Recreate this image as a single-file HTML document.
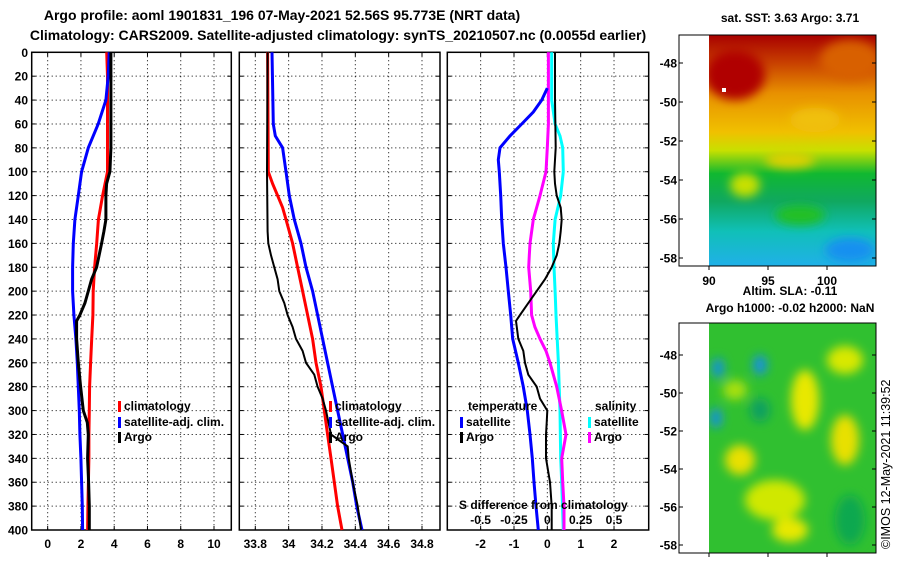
<!DOCTYPE html>
<html><head><meta charset="utf-8"><style>
body{margin:0;background:#fff;}
svg{display:block;font-family:"Liberation Sans",sans-serif;font-weight:bold;}
</style></head><body>
<svg id="c" width="900" height="580" viewBox="0 0 900 580">
<defs>
<linearGradient id="sst" x1="0" y1="0" x2="0" y2="1">
<stop offset="0" stop-color="#a80000"/><stop offset="0.12" stop-color="#c84000"/><stop offset="0.25" stop-color="#e89000"/>
<stop offset="0.42" stop-color="#f0c000"/><stop offset="0.5" stop-color="#c8e000"/><stop offset="0.6" stop-color="#10b830"/>
<stop offset="0.72" stop-color="#10a860"/><stop offset="0.85" stop-color="#10c0b8"/><stop offset="1" stop-color="#20b0e8"/>
</linearGradient>
<filter id="bl"><feGaussianBlur stdDeviation="5"/></filter>
<clipPath id="m1"><rect x="709" y="35" width="167" height="231"/></clipPath>
<clipPath id="m2"><rect x="709" y="323" width="167" height="230"/></clipPath>
</defs>
<text x="282" y="20" text-anchor="middle" font-size="14">Argo profile: aoml 1901831_196 07-May-2021 52.56S 95.773E (NRT data)</text>
<text x="338" y="40" text-anchor="middle" font-size="14">Climatology: CARS2009. Satellite-adjusted climatology: synTS_20210507.nc (0.0055d earlier)</text>
<g id="panels"></g>
<text x="790" y="22" text-anchor="middle" font-size="12">sat. SST: 3.63 Argo: 3.71</text>
<g clip-path="url(#m1)">
<rect x="709" y="35" width="167" height="231" fill="url(#sst)"/>
<g filter="url(#bl)">
<ellipse cx="735" cy="75" rx="30" ry="25" fill="#b00000"/>
<ellipse cx="850" cy="60" rx="30" ry="20" fill="#d86000"/>
<ellipse cx="815" cy="120" rx="25" ry="12" fill="#f0c010"/>
<ellipse cx="745" cy="185" rx="15" ry="12" fill="#c8e000"/>
<ellipse cx="790" cy="160" rx="25" ry="8" fill="#e0d000"/>
<ellipse cx="800" cy="215" rx="25" ry="10" fill="#20c020"/>
<ellipse cx="850" cy="250" rx="25" ry="12" fill="#1890f0"/>
</g>
<rect x="722" y="88" width="4" height="4" fill="#fff"/>
</g>
<rect x="679" y="35" width="197" height="231" fill="none" stroke="#000"/>
<text x="790" y="295" text-anchor="middle" font-size="12">Altim. SLA: -0.11</text>
<text x="790" y="312" text-anchor="middle" font-size="12">Argo h1000: -0.02 h2000: NaN</text>
<g clip-path="url(#m2)">
<rect x="709" y="323" width="167" height="230" fill="#30c030"/>
<g filter="url(#bl)">
<ellipse cx="805" cy="400" rx="14" ry="30" fill="#e8e800"/>
<ellipse cx="845" cy="360" rx="18" ry="14" fill="#d8e800"/>
<ellipse cx="845" cy="440" rx="14" ry="25" fill="#e8e000"/>
<ellipse cx="775" cy="500" rx="30" ry="20" fill="#d0e800"/>
<ellipse cx="740" cy="460" rx="15" ry="15" fill="#e8e000"/>
<ellipse cx="735" cy="390" rx="12" ry="10" fill="#a8e010"/>
<ellipse cx="760" cy="410" rx="10" ry="12" fill="#10a060"/>
<ellipse cx="718" cy="368" rx="6" ry="10" fill="#1890e0"/>
<ellipse cx="760" cy="365" rx="7" ry="10" fill="#1890e0"/>
<ellipse cx="716" cy="418" rx="6" ry="10" fill="#1890e0"/>
<ellipse cx="790" cy="530" rx="18" ry="12" fill="#e8e800"/>
<ellipse cx="850" cy="520" rx="15" ry="25" fill="#10a850"/>
</g>
</g>
<rect x="679" y="323" width="197" height="230" fill="none" stroke="#000"/>
<text transform="translate(890,549) rotate(-90)" font-size="12.5" font-weight="normal">©IMOS 12-May-2021 11:39:52</text>
<g id="maplabels"></g>
</svg>
<script>
const depthClim = [0,20,40,60,80,100,120,140,160,180,200,220,240,260,280,300,320,340,360,380,400];
const tempClim = [3.55,3.6,3.6,3.6,3.6,3.6,3.3,3.05,2.95,2.82,2.74,2.72,2.65,2.58,2.52,2.5,2.48,2.48,2.45,2.42,2.4];
const tempSat = [3.7,3.64,3.5,3.04,2.44,2.04,1.84,1.64,1.54,1.5,1.5,1.58,1.7,1.78,1.84,1.9,1.94,2.0,2.04,2.08,2.1];
const depthArgoT = [0,40,80,100,110,120,140,150,160,180,190,200,210,220,225,240,260,280,300,310,320,340,360,380,400];
const tempArgo = [3.8,3.8,3.8,3.74,3.54,3.5,3.5,3.38,3.24,2.94,2.64,2.44,2.24,1.94,1.74,1.74,1.84,1.98,2.14,2.38,2.44,2.4,2.46,2.5,2.5];
const depthS = [0,60,70,80,100,120,140,160,180,200,220,240,260,280,300,320,340,360,380,400];
const salSat = [33.9,33.908,33.92,33.964,33.984,34.004,34.034,34.074,34.104,34.144,34.174,34.204,34.234,34.264,34.294,34.324,34.354,34.384,34.408,34.44];
const depthSC = [0,100,110,120,130,140,160,180,200,220,240,260,280,300,320,340,360,380,400];
const salClim = [33.874,33.878,33.904,33.934,33.964,33.984,34.024,34.054,34.084,34.114,34.144,34.164,34.194,34.214,34.234,34.254,34.274,34.294,34.32];
const depthSA = [0,100,150,160,170,180,190,200,210,220,230,240,250,260,270,280,290,300,320,330,340,360,380,400];
const salArgo = [33.874,33.87,33.874,33.878,33.894,33.914,33.934,33.944,33.974,33.994,34.024,34.044,34.084,34.104,34.154,34.174,34.204,34.224,34.254,34.354,34.36,34.384,34.414,34.434];
const depthDT = [30,40,50,60,70,80,90,100,120,140,160,180,200,220,240,260,280,300,320,340,360,380,400];
const dTsat = [0,-0.17,-0.42,-0.77,-1.12,-1.42,-1.47,-1.44,-1.4,-1.37,-1.32,-1.24,-1.17,-1.1,-1.04,-0.87,-0.72,-0.6,-0.52,-0.45,-0.4,-0.34,-0.27];
const depthDTA = [0,40,80,100,110,120,130,140,150,160,170,180,190,200,210,220,225,240,250,260,270,280,290,300,310,320,340,360,380,400];
const dTargo = [0.23,0.23,0.25,0.21,0.23,0.28,0.4,0.43,0.4,0.36,0.28,0.13,-0.07,-0.32,-0.57,-0.82,-0.94,-0.87,-0.72,-0.67,-0.57,-0.32,-0.22,0,-0.02,-0.04,-0.04,0.08,0.13,0.13];
const depthDS = [0,60,80,100,120,140,160,170,180,200,220,230,240,250,260,280,300,320,340,360,380,400];
const dSargo = [0.008,0.008,0,-0.01,-0.055,-0.105,-0.13,-0.135,-0.14,-0.125,-0.118,-0.093,-0.055,-0.01,0.02,0.07,0.107,0.14,0.108,0.115,0.125,0.125];
const depthDSS = [0,40,60,70,80,100,120,140,160,180,200,220,260,300,340,360,400];
const dSsat = [0.033,0.033,0.058,0.095,0.115,0.12,0.1,0.058,0.045,0.05,0.058,0.065,0.083,0.095,0.1,0.108,0.12];
const depthTicks = [0,20,40,60,80,100,120,140,160,180,200,220,240,260,280,300,320,340,360,380,400];
const tTicks = [0,2,4,6,8,10];
const sTicks = [33.8,34,34.2,34.4,34.6,34.8];
const dTicks = [-2,-1,0,1,2];
const sdTicks = [-0.5,-0.25,0,0.25,0.5];
const latTicks = [-48,-50,-52,-54,-56,-58];
const lonTicks = [90,95,100];

const NS='http://www.w3.org/2000/svg';
const G=document.getElementById('panels');
const T=52.3,B=530;
const yD=d=>T+(d/400)*(B-T);
function mk(tag,at,par){const e=document.createElementNS(NS,tag);for(const k in at)e.setAttribute(k,at[k]);(par||G).appendChild(e);return e;}
const panels=[
 {name:'temperature-panel',x0:31.7,x1:231.3,v0:-0.96,v1:11.04,ticks:tTicks},
 {name:'salinity-panel',x0:239.3,x1:440,v0:33.704,v1:34.908,ticks:sTicks},
 {name:'difference-panel',x0:447.3,x1:648.7,v0:-3.0,v1:3.04,ticks:dTicks}
];
panels.forEach(p=>{p.sx=v=>p.x0+(v-p.v0)/(p.v1-p.v0)*(p.x1-p.x0);});
panels.forEach((p,i)=>{
 const g=mk('g',{});
 
 
 depthTicks.forEach(d=>{
  if(d>0&&d<400){const l=mk('line',{x1:p.x0,x2:p.x1,y1:yD(d),y2:yD(d),stroke:'#000','stroke-width':1,'stroke-dasharray':'1,3'},g);
   }
  mk('line',{x1:p.x0,x2:p.x0+4,y1:yD(d),y2:yD(d),stroke:'#000'},g);
  mk('line',{x1:p.x1-4,x2:p.x1,y1:yD(d),y2:yD(d),stroke:'#000'},g);
  if(i===0){const t=mk('text',{x:28,y:yD(d)+4.5,'text-anchor':'end','font-size':12},g);t.textContent=d;
   }
 });
 p.ticks.forEach(v=>{
  const x=p.sx(v);
  mk('line',{x1:x,x2:x,y1:T,y2:B,stroke:'#000','stroke-dasharray':'1,3'},g);
  mk('line',{x1:x,x2:x,y1:T,y2:T+4,stroke:'#000'},g);
  mk('line',{x1:x,x2:x,y1:B-4,y2:B,stroke:'#000'},g);
  const t=mk('text',{x:x,y:B+18,'text-anchor':'middle','font-size':12},g);t.textContent=v;
  
 });
 const r=mk('rect',{x:p.x0,y:T,width:p.x1-p.x0,height:B-T,fill:'none',stroke:'#000','stroke-width':1.5},g);
 
});
function line(p,ds,vs,col,w,name,conv){
 const pts=ds.map((d,i)=>p.sx(conv?conv(vs[i]):vs[i]).toFixed(1)+','+yD(d).toFixed(1)).join(' ');
 const e=mk('polyline',{points:pts,fill:'none',stroke:col,'stroke-width':w});
 
 
}
const P1=panels[0],P2=panels[1],P3=panels[2];
line(P1,depthClim,tempClim,'#f00',3,'temp-climatology-line');
line(P1,depthClim,tempSat,'#00f',3,'temp-satellite-line');
line(P1,depthArgoT,tempArgo,'#000',3,'temp-argo-line');
line(P2,depthSC,salClim,'#f00',3,'sal-climatology-line');
line(P2,depthS,salSat,'#00f',3,'sal-satellite-line');
line(P2,depthSA,salArgo,'#000',2,'sal-argo-line');
const sConv=s=>s*4;
line(P3,depthDSS,dSsat,'#0ff',3,'sdiff-satellite-line',sConv);
line(P3,depthDS,dSargo,'#f0f',3,'sdiff-argo-line',sConv);
line(P3,depthDT,dTsat,'#00f',3,'tdiff-satellite-line');
line(P3,depthDTA,dTargo,'#000',2,'tdiff-argo-line');
function leg(x,y,col,txt,name){
 const g=mk('g',{});
 
 
 if(col)mk('rect',{x:x,y:y-9,width:3,height:11,fill:col},g);
 const t=mk('text',{x:x+(col?6:0),y:y,'font-size':12},g);t.textContent=txt;
}
leg(118,410,'#f00','climatology','legend-climatology');
leg(118,426,'#00f','satellite-adj. clim.','legend-satellite-adj');
leg(118,441,'#000','Argo','legend-argo');
leg(329,410,'#f00','climatology','legend2-climatology');
leg(329,426,'#00f','satellite-adj. clim.','legend2-satellite-adj');
leg(329,441,'#000','Argo','legend2-argo');
leg(468,410,null,'temperature','legend-temperature-heading');
leg(460,426,'#00f','satellite','legend-temp-satellite');
leg(460,441,'#000','Argo','legend-temp-argo');
leg(595,410,null,'salinity','legend-salinity-heading');
leg(588,426,'#0ff','satellite','legend-sal-satellite');
leg(588,441,'#f0f','Argo','legend-sal-argo');
const st=mk('text',{x:459,y:509,'font-size':12});st.textContent='S difference from climatology';

sdTicks.forEach(s=>{const t=mk('text',{x:P3.sx(s*4),y:524,'text-anchor':'middle','font-size':12});t.textContent=s;
 });
const ML=document.getElementById('maplabels');
const latY1=l=>63+(-48-l)/2*39;
const latY2=l=>355+(-48-l)/2*38;
latTicks.forEach(l=>{
 [latY1,latY2].forEach(f=>{
  const y=f(l);
  const t=mk('text',{x:677,y:y+4.5,'text-anchor':'end','font-size':12},ML);
  t.textContent=l;
  
  mk('line',{x1:679,x2:683,y1:y,y2:y,stroke:'#000'},ML);
  mk('line',{x1:872,x2:876,y1:y,y2:y,stroke:'#000'},ML);
 });
});
lonTicks.forEach(v=>{const x=709+(v-90)/5*59;
 const t=mk('text',{x:x,y:285,'text-anchor':'middle','font-size':12},ML);t.textContent=v;
 
 mk('line',{x1:x,x2:x,y1:266,y2:270,stroke:'#000'},ML);mk('line',{x1:x,x2:x,y1:553,y2:557,stroke:'#000'},ML);});
</script>
</body></html>
